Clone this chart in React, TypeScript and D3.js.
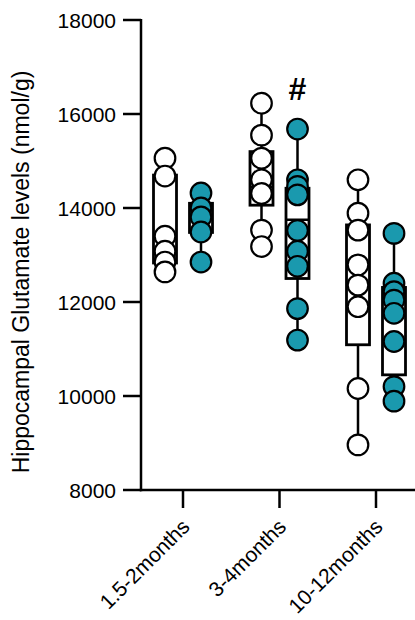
import React from "react";
import * as d3 from "d3";

const categories = ["1.5-2months", "3-4months", "10-12months"];
const yTicks = [8000, 10000, 12000, 14000, 16000, 18000];

const whiteValues = [
  [15060, 14680, 13400, 13080, 12850, 12640],
  [16230, 15550, 15060, 14600, 14310, 13530, 13180],
  [14600, 13890, 13530, 12790, 12360, 11900, 10160, 8960],
];
const tealValues = [
  [14320, 14000, 13810, 13490, 12850],
  [15680, 14600, 14460, 14280, 13520, 13080, 12760, 11860, 11190],
  [13460, 12400, 12220, 12040, 11760, 11160, 10200, 9890],
];
const whiteQ1 = [12830, 14060, 11090];
const whiteMedian = [13080, 14450, 12360];
const whiteQ3 = [14700, 15200, 13640];
const tealQ1 = [13480, 12500, 10450];
const tealMedian = [13810, 13750, 12040];
const tealQ3 = [14100, 14420, 12310];

const annotation = { category: "3-4months", text: "#", value: 16300 };

const TEAL = "#1a99ae";
const FONT = "'Liberation Sans', Arial, Helvetica, sans-serif";

export default function App() {
  const W = 415, H = 620;
  const left = 141, right = 415, top = 20, bottom = 490;
  const y = d3.scaleLinear().domain([8000, 18000]).range([bottom, top]);
  const x = d3.scalePoint<string>().domain(categories).range([183, 376]);
  const off = 18;
  const boxW = 23;
  const r = 10.3;

  const groups = categories.map((c, i) => [
    { cx: x(c)! - off, vals: whiteValues[i], q1: whiteQ1[i], med: whiteMedian[i], q3: whiteQ3[i], fill: "#ffffff" },
    { cx: x(c)! + off, vals: tealValues[i], q1: tealQ1[i], med: tealMedian[i], q3: tealQ3[i], fill: TEAL },
  ]).flat();

  return (
    <svg width={W} height={H} style={{ position: "absolute", left: 0, top: 0, background: "#fff" }} fontFamily={FONT}>
      {/* y axis */}
      <line x1={left} x2={left} y1={top - 1} y2={bottom + 1.2} stroke="#000" strokeWidth={2.5} />
      {yTicks.map((t) => (
        <g key={t}>
          <line x1={left - 18} x2={left} y1={y(t)} y2={y(t)} stroke="#000" strokeWidth={2.5} />
          <text x={116} y={y(t)} dy="0.36em" textAnchor="end" fontSize={21} fill="#000">{t}</text>
        </g>
      ))}
      {/* x axis */}
      <line x1={left - 1.2} x2={right} y1={bottom} y2={bottom} stroke="#000" strokeWidth={2.5} />
      {categories.map((c) => (
        <g key={c}>
          <line x1={x(c)} x2={x(c)} y1={bottom} y2={bottom + 18} stroke="#000" strokeWidth={2.5} />
          <text transform={`translate(${x(c)! + 8},${bottom + 38}) rotate(-45)`} textAnchor="end" fontSize={21} fill="#000">{c}</text>
        </g>
      ))}
      <text transform={`translate(29,272) rotate(-90)`} textAnchor="middle" fontSize={23} fill="#000">
        Hippocampal Glutamate levels (nmol/g)
      </text>
      {/* boxes */}
      {groups.map((g, i) => {
        const ext = d3.extent(g.vals) as [number, number];
        return (
          <g key={i}>
            <line x1={g.cx} x2={g.cx} y1={y(ext[0])} y2={y(ext[1])} stroke="#000" strokeWidth={2.5} />
            <rect x={g.cx - boxW / 2} y={y(g.q3)} width={boxW} height={y(g.q1) - y(g.q3)} fill="#fff" stroke="#000" strokeWidth={2.8} />
            <line x1={g.cx - boxW / 2} x2={g.cx + boxW / 2} y1={y(g.med)} y2={y(g.med)} stroke="#000" strokeWidth={2.5} />
            {g.vals.map((v, j) => (
              <circle key={j} cx={g.cx} cy={y(v)} r={r} fill={g.fill} stroke="#000" strokeWidth={2.2} />
            ))}
          </g>
        );
      })}
      <text x={x(annotation.category)! + off} y={y(annotation.value)} textAnchor="middle" fontSize={32} fontWeight="bold" fill="#000">
        {annotation.text}
      </text>
    </svg>
  );
}
